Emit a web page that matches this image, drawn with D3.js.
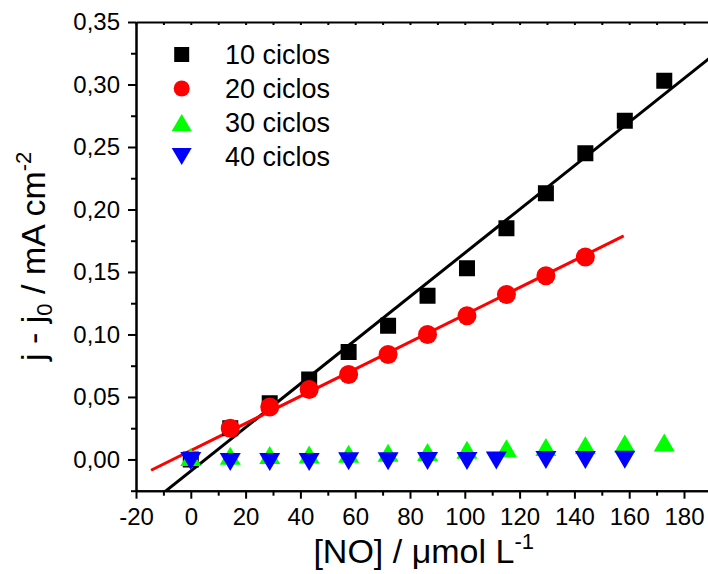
<!DOCTYPE html>
<html>
<head>
<meta charset="utf-8">
<script src="https://cdn.jsdelivr.net/npm/d3@7"></script>
<style>
  body { margin: 0; background: #fff; }
  svg { display: block; font-family: "Liberation Sans", Arial, sans-serif; }
</style>
</head>
<body>
<div id="wrapper"></div>
<script>
// values
const seriesNames = ["10 ciclos", "20 ciclos", "30 ciclos", "40 ciclos"]
const seriesColors = ["#000000", "#ff0000", "#00ff00", "#0000ff"]

const conc10 = [0, 14.4, 28.8, 43.2, 57.6, 72, 86.4, 100.8, 115.2, 129.6, 144, 158.4, 172.8]
const j10 = [0.000, 0.025, 0.045, 0.064, 0.086, 0.107, 0.131, 0.153, 0.185, 0.213, 0.245, 0.271, 0.303]

const conc20 = [14.4, 28.8, 43.2, 57.6, 72, 86.4, 100.8, 115.2, 129.6, 144]
const j20 = [0.025, 0.042, 0.056, 0.068, 0.084, 0.100, 0.115, 0.132, 0.147, 0.162]

const conc30 = [0, 14.4, 28.8, 43.2, 57.6, 72, 86.4, 100.8, 115.2, 129.6, 144, 158.4, 172.8]
const j30 = [0.002, 0.003, 0.0035, 0.004, 0.0045, 0.0053, 0.006, 0.0077, 0.009, 0.010, 0.0113, 0.0127, 0.0135]

const conc40 = [0, 14.4, 28.8, 43.2, 57.6, 72, 86.4, 100.8, 111.5, 129.6, 144, 158.4]
const j40 = [-0.0013, -0.002, -0.002, -0.002, -0.0014, -0.0014, -0.0012, -0.0012, -0.0008, -0.0005, -0.0005, -0.0002]

// linear fits (black: 10 ciclos, red: 20 ciclos)
const fitSlope = [0.001745, 0.001087]
const fitIntercept = [-0.0093, 0.0071]
const fitFrom = [-20, -14.5]
const fitTo = [190, 158]

const xTicks = [-20, 0, 20, 40, 60, 80, 100, 120, 140, 160, 180]
const xMinorTicks = [-10, 10, 30, 50, 70, 90, 110, 130, 150, 170, 190]
const yTicks = [0, 0.05, 0.10, 0.15, 0.20, 0.25, 0.30, 0.35]
const yMinorTicks = [-0.025, 0.025, 0.075, 0.125, 0.175, 0.225, 0.275, 0.325]

// dimensions
const dimensions = {
    width: 708,
    height: 574,
    left: 136,
    top: 22,
    plotRight: 711.4,
    plotBottom: 490.7,
}

const svg = d3.select("#wrapper")
    .append("svg")
        .attr("width", dimensions.width)
        .attr("height", dimensions.height)

const xScale = d3.scaleLinear()
    .domain([-20, 190])
    .range([dimensions.left, dimensions.plotRight])

const yScale = d3.scaleLinear()
    .domain([-0.025, 0.35])
    .range([dimensions.plotBottom, dimensions.top])

svg.append("clipPath").attr("id", "plot-clip")
    .append("rect")
        .attr("x", dimensions.left)
        .attr("y", dimensions.top)
        .attr("width", dimensions.plotRight - dimensions.left)
        .attr("height", dimensions.plotBottom - dimensions.top)

// markers: triangles centred on their bounding box, like Origin does
const triUp = {
    draw(ctx, size) {
        const w = Math.sqrt(size), h = w * 0.86
        ctx.moveTo(0, -h / 2); ctx.lineTo(w / 2, h / 2); ctx.lineTo(-w / 2, h / 2); ctx.closePath()
    }
}
const triDown = {
    draw(ctx, size) {
        const w = Math.sqrt(size), h = w * 0.86
        ctx.moveTo(0, h / 2); ctx.lineTo(w / 2, -h / 2); ctx.lineTo(-w / 2, -h / 2); ctx.closePath()
    }
}
const symbolTypes = [d3.symbolSquare, d3.symbolCircle, triUp, triDown]
const plotSizes = [256, 283, 441, 441]
const legendSizes = [225, 201, 400, 400]

// fit lines
const fits = svg.append("g").attr("clip-path", "url(#plot-clip)")
const line = d3.line().x(d => xScale(d[0])).y(d => yScale(d[1]))
fitSlope.forEach((m, i) => {
    const pts = [fitFrom[i], fitTo[i]].map(x => [x, fitIntercept[i] + m * x])
    fits.append("path")
        .attr("d", line(pts))
        .attr("fill", "none")
        .attr("stroke", seriesColors[i])
        .attr("stroke-width", 3)
})

// points
const seriesX = [conc10, conc20, conc30, conc40]
const seriesY = [j10, j20, j30, j40]
const marks = svg.append("g").attr("clip-path", "url(#plot-clip)")
seriesX.forEach((xs, i) => {
    const pts = xs.map((x, k) => [x, seriesY[i][k]])
    marks.append("g").selectAll("path")
        .data(pts)
        .enter().append("path")
            .attr("transform", d => `translate(${xScale(d[0])},${yScale(d[1])})`)
            .attr("d", d3.symbol().type(symbolTypes[i]).size(plotSizes[i]))
            .attr("fill", seriesColors[i])
})

// axes
const comma = v => d3.format(".2f")(v).replace(".", ",")
const plain = v => String(v)

function styleAxis(g) {
    g.selectAll("path, line").attr("stroke", "#000").attr("stroke-width", 2)
    g.selectAll("text").attr("fill", "#000").style("font-size", "24px")
}

svg.append("g")
    .attr("transform", `translate(0,${dimensions.plotBottom})`)
    .call(d3.axisBottom(xScale).tickValues(xTicks).tickSize(8).tickSizeOuter(0).tickPadding(9).tickFormat(plain))
    .call(styleAxis)
svg.append("g")
    .attr("transform", `translate(0,${dimensions.plotBottom})`)
    .call(d3.axisBottom(xScale).tickValues(xMinorTicks).tickSize(5).tickSizeOuter(0).tickFormat(""))
    .call(styleAxis)

svg.append("g")
    .attr("transform", `translate(${dimensions.left},0)`)
    .call(d3.axisLeft(yScale).tickValues(yTicks).tickSize(8).tickSizeOuter(0).tickPadding(8).tickFormat(comma))
    .call(styleAxis)
svg.append("g")
    .attr("transform", `translate(${dimensions.left},0)`)
    .call(d3.axisLeft(yScale).tickValues(yMinorTicks).tickSize(5).tickSizeOuter(0).tickFormat(""))
    .call(styleAxis)

// top frame with small inward ticks
svg.append("g")
    .attr("transform", `translate(0,${dimensions.top})`)
    .call(d3.axisTop(xScale).tickValues(xTicks.concat(xMinorTicks)).tickSize(-3).tickSizeOuter(0).tickFormat(""))
    .call(styleAxis)
svg.append("g")
    .attr("transform", `translate(${dimensions.plotRight},0)`)
    .call(d3.axisRight(yScale).tickValues(yTicks).tickSize(-3).tickSizeOuter(0).tickFormat(""))
    .call(styleAxis)

// axis titles
const xTitle = svg.append("text")
    .attr("x", (dimensions.left + dimensions.plotRight) / 2)
    .attr("y", 563)
    .attr("text-anchor", "middle")
    .style("font-size", "34px")
xTitle.append("tspan").text("[NO] / μmol L")
xTitle.append("tspan").text("-1").style("font-size", "22px").attr("dy", -14)

const yTitle = svg.append("text")
    .attr("transform", `translate(45,${(dimensions.top + dimensions.plotBottom) / 2}) rotate(-90)`)
    .attr("text-anchor", "middle")
    .style("font-size", "34px")
yTitle.append("tspan").text("j - j")
yTitle.append("tspan").text("0").style("font-size", "22px").attr("dy", 7)
yTitle.append("tspan").text(" / mA cm").attr("dy", -7)
yTitle.append("tspan").text("-2").style("font-size", "22px").attr("dy", -14)

// legend
const legend = svg.append("g")
seriesNames.forEach((name, i) => {
    const y = 54.5 + i * 34
    legend.append("path")
        .attr("transform", `translate(181.7,${y})`)
        .attr("d", d3.symbol().type(symbolTypes[i]).size(legendSizes[i]))
        .attr("fill", seriesColors[i])
    legend.append("text")
        .attr("x", 225)
        .attr("y", y + 9.5)
        .style("font-size", "27px")
        .text(name)
})
</script>
</body>
</html>
